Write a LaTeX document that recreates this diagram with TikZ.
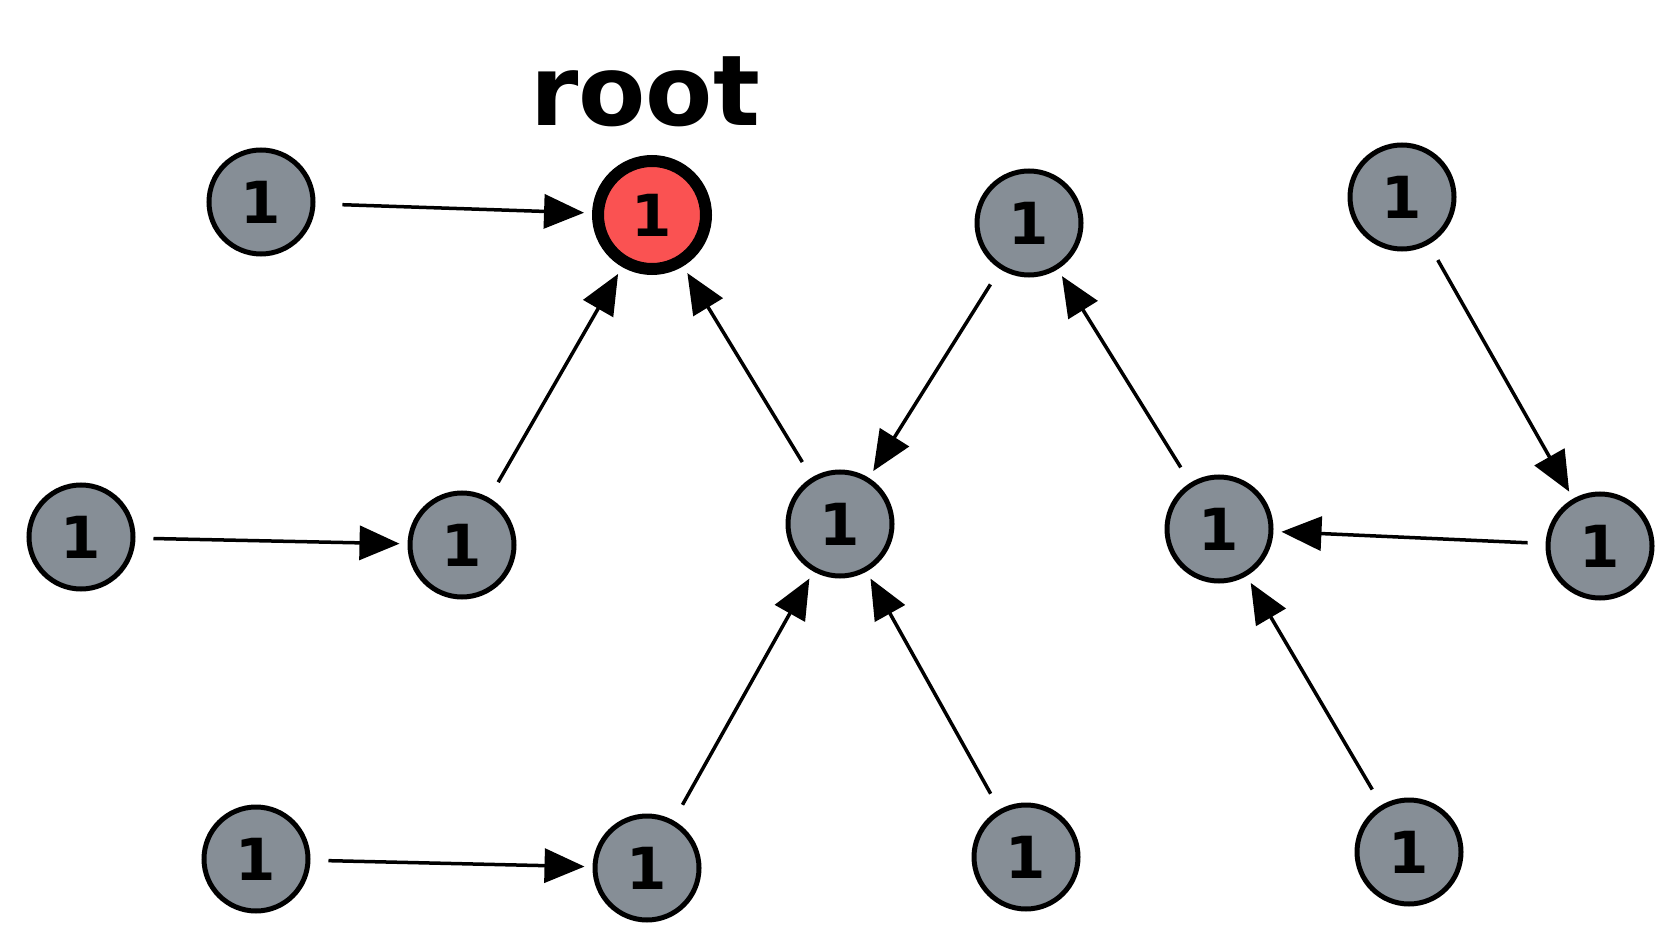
\documentclass[tikz,border=0pt]{standalone}
\usepackage{fontspec}
\setmainfont{DejaVu Sans}
\usetikzlibrary{arrows.meta}
\definecolor{nodegray}{HTML}{868E96}
\definecolor{rootred}{HTML}{FA5252}
\begin{document}
\begin{tikzpicture}[x=1pt,y=-1pt,
  vert/.style={circle,draw=black,line width=5pt,fill=nodegray,minimum size=104pt,inner sep=0pt,
    font=\bfseries\fontsize{58}{60}\selectfont},
  rootv/.style={vert,fill=rootred,line width=12pt,minimum size=108pt},
  edge/.style={line width=3.5pt,-{Triangle[length=40pt,width=34pt]},shorten <=18pt,shorten >=8pt}]
\useasboundingbox (0,0) rectangle (1675,949);
\node[rootv] (root) at (652,215) {1};
\node[vert] (A) at (261,202) {1};
\node[vert] (B) at (1029,223) {1};
\node[vert] (C) at (1402,197) {1};
\node[vert] (D) at (81,537) {1};
\node[vert] (E) at (462,545) {1};
\node[vert] (F) at (840,524) {1};
\node[vert] (G) at (1219,529) {1};
\node[vert] (H) at (1600,546) {1};
\node[vert] (I) at (256,859) {1};
\node[vert] (J) at (647,868) {1};
\node[vert] (K) at (1026,857) {1};
\node[vert] (L) at (1409,852) {1};
\node[font=\bfseries\fontsize{98}{100}\selectfont] (lbl) at (645,92) {root};
\draw[edge,shorten <=27pt] (A) -- (root);
\draw[edge] (E) -- (root);
\draw[edge] (F) -- (root);
\draw[edge] (B) -- (F);
\draw[edge] (G) -- (B);
\draw[edge] (C) -- (H);
\draw[edge] (H) -- (G);
\draw[edge] (L) -- (G);
\draw[edge] (D) -- (E);
\draw[edge] (I) -- (J);
\draw[edge] (J) -- (F);
\draw[edge] (K) -- (F);
\end{tikzpicture}
\end{document}
